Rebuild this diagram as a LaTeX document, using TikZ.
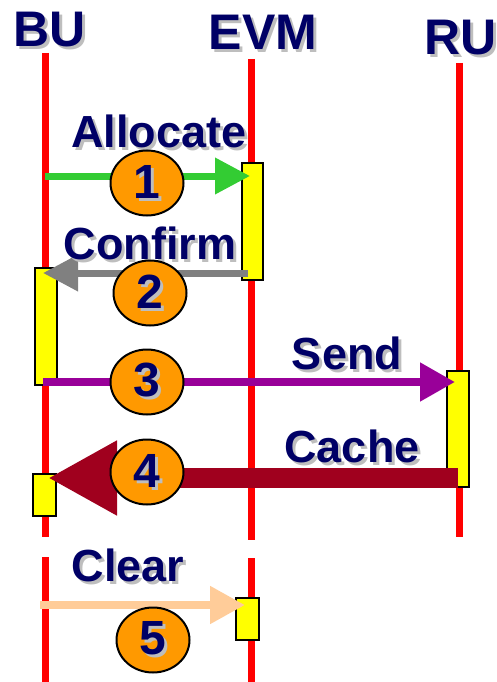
\documentclass[tikz,border=0pt]{standalone}
\usepackage{fontspec}
\setmainfont{Liberation Sans}
\usetikzlibrary{arrows.meta,shapes.geometric}

\definecolor{navy}{RGB}{0,0,102}
\definecolor{shade}{RGB}{190,190,190}
\definecolor{lifered}{RGB}{255,0,0}
\definecolor{actyellow}{RGB}{255,255,0}
\definecolor{steporange}{RGB}{255,153,0}
\definecolor{allocgreen}{RGB}{51,204,51}
\definecolor{confgray}{RGB}{128,128,128}
\definecolor{sendpurple}{RGB}{153,0,153}
\definecolor{cachered}{RGB}{160,0,30}
\definecolor{clearpeach}{RGB}{255,204,153}

% text with a soft grey drop shadow
\newcommand\shtext[1]{\rlap{\kern3pt\raisebox{-3pt}{\color{shade}#1}}#1}

\tikzset{
  header/.style={anchor=base, text=navy, inner sep=0pt,
    font=\fontsize{50}{56}\selectfont\bfseries},
  msglabel/.style={anchor=base, text=navy, inner sep=0pt,
    font=\fontsize{45}{50}\selectfont\bfseries},
  lifeline/.style={draw=lifered, line width=7pt},
  actbox/.style={draw=black, line width=2pt, fill=actyellow},
  stepnum/.style={ellipse, draw=black, line width=2pt, fill=steporange,
    minimum width=73pt, minimum height=65pt, inner sep=0pt, text=navy,
    font=\fontsize{48}{52}\selectfont\bfseries},
  msg/.style={line width=#1},
}

\begin{document}
\begin{tikzpicture}[x=1pt, y=-1pt]
\useasboundingbox (0,0) rectangle (496,682);

% participants
\node[header] (buhead)  at (50,47)  {\shtext{BU}};
\node[header] (evmhead) at (263,50) {\shtext{EVM}};
\node[header] (ruhead)  at (461,55) {\shtext{RU}};

% lifelines (broken before the final step)
\coordinate (bu0) at (45,53);   \coordinate (bu1) at (45,537);
\coordinate (bu2) at (45,557);  \coordinate (bu3) at (45,682);
\coordinate (evm0) at (251,59); \coordinate (evm1) at (251,540);
\coordinate (evm2) at (251,558);\coordinate (evm3) at (251,682);
\coordinate (ru0) at (459,63);  \coordinate (ru1) at (459,537);
\draw[lifeline] (bu0) -- (bu1);   \draw[lifeline] (bu2) -- (bu3);
\draw[lifeline] (evm0) -- (evm1); \draw[lifeline] (evm2) -- (evm3);
\draw[lifeline] (ru0) -- (ru1);

% activation bars
\draw[actbox] (242,163) rectangle (263,280);
\draw[actbox] (35,268) rectangle (57,385);
\draw[actbox] (447,371) rectangle (469,487);
\draw[actbox] (33,474) rectangle (56,516);
\draw[actbox] (236,598) rectangle (259,640);

% message end points
\coordinate (a1s) at (45,176);  \coordinate (a1e) at (250,176);
\coordinate (a2s) at (248,273); \coordinate (a2e) at (43,273);
\coordinate (a3s) at (43,382);  \coordinate (a3e) at (455,382);
\coordinate (a4s) at (458,478); \coordinate (a4e) at (48,478);
\coordinate (a5s) at (40,605);  \coordinate (a5e) at (245,605);

% messages
\draw[msg=7pt, allocgreen, -{Triangle[length=35pt,width=35pt]}] (a1s) -- (a1e);
\draw[msg=7pt, confgray, -{Triangle[length=35pt,width=35pt]}] (a2s) -- (a2e);
\draw[msg=8pt, sendpurple, -{Triangle[length=35pt,width=37pt]}] (a3s) -- (a3e);
\draw[msg=20pt, cachered, -{Triangle[length=69pt,width=70pt]}] (a4s) -- (a4e);
\draw[msg=8pt, clearpeach, -{Triangle[length=35pt,width=36pt]}] (a5s) -- (a5e);

% message labels
\node[msglabel] (lalloc) at (159,147) {\shtext{Allocate}};
\node[msglabel] (lconf)  at (150,259) {\shtext{Confirm}};
\node[msglabel] (lsend)  at (347,369) {\shtext{Send}};
\node[msglabel] (lcache) at (352,462) {\shtext{Cache}};
\node[msglabel] (lclear) at (128,581) {\shtext{Clear}};

% step numbers
\node[stepnum] (s1) at (147,183) {\shtext{1}};
\node[stepnum] (s2) at (150,293) {\shtext{2}};
\node[stepnum] (s3) at (147,382) {\shtext{3}};
\node[stepnum] (s4) at (147,472) {\shtext{4}};
\node[stepnum] (s5) at (153,640) {\shtext{5}};
\end{tikzpicture}
\end{document}
